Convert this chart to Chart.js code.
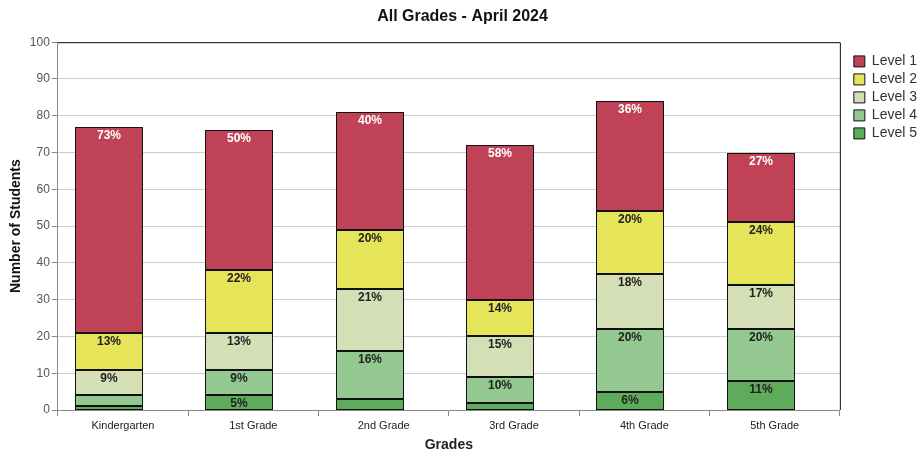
<!DOCTYPE html>
<html>
<head>
<meta charset="utf-8">
<script src="https://cdn.jsdelivr.net/npm/chart.js@4.4.1/dist/chart.umd.min.js"></script>
<style>
  html, body { margin: 0; padding: 0; background: #fff; }
  #wrap { width: 921px; height: 454px; }
</style>
</head>
<body>
<div id="wrap"><canvas id="chart" width="921" height="454"></canvas></div>
<script>
const grades = ['Kindergarten', '1st Grade', '2nd Grade', '3rd Grade', '4th Grade', '5th Grade'];
const level1 = [56, 38, 32, 42, 30, 19];
const level2 = [10, 17, 16, 10, 17, 17];
const level3 = [7, 10, 17, 11, 15, 12];
const level4 = [3, 7, 13, 7, 17, 14];
const level5 = [1, 4, 3, 2, 5, 8];

const totals = grades.map((g, i) => level1[i] + level2[i] + level3[i] + level4[i] + level5[i]);

const FONT = '"Liberation Sans", Arial, sans-serif';

// bars sit a little left of the centre of each category band; snap to pixels
const shiftBars = {
  id: 'shiftBars',
  afterDatasetsUpdate(chart) {
    const xs = chart.scales.x;
    const shift = xs.width / chart.data.labels.length * 0.107;
    chart.data.datasets.forEach((ds, di) => {
      chart.getDatasetMeta(di).data.forEach(bar => {
        bar.x = Math.round(bar.x - shift);
        bar.width = Math.round(bar.width / 2) * 2;
        bar.y = Math.round(bar.y);
        bar.base = Math.round(bar.base);
      });
    });
  }
};

// nudge the legend items away from the plot frame
const legendNudge = {
  id: 'legendNudge',
  afterInit(chart) {
    const lg = chart.legend;
    const orig = lg.draw;
    lg.draw = function () {
      const ctx = this.ctx;
      ctx.save();
      ctx.translate(10, 2);
      orig.apply(this, arguments);
      ctx.restore();
    };
  }
};

// percent labels drawn near the top of each segment
const pctLabels = {
  id: 'pctLabels',
  afterDatasetsDraw(chart) {
    const ctx = chart.ctx;
    ctx.save();
    ctx.font = 'bold 12px ' + FONT;
    ctx.textAlign = 'center';
    ctx.textBaseline = 'middle';
    chart.data.datasets.forEach((ds, di) => {
      const meta = chart.getDatasetMeta(di);
      meta.data.forEach((bar, i) => {
        const pct = Math.round(ds.data[i] / totals[i] * 100);
        if (pct < 5) return;
        ctx.fillStyle = ds.label === 'Level 1' ? '#ffffff' : '#222222';
        ctx.fillText(pct + '%', bar.x, bar.y + 9);
      });
    });
    ctx.restore();
  }
};

// black frame on top and right of plot area
const frame = {
  id: 'frame',
  afterDraw(chart) {
    const a = chart.chartArea;
    const ctx = chart.ctx;
    ctx.save();
    ctx.strokeStyle = '#111';
    ctx.lineWidth = 1;
    ctx.beginPath();
    ctx.moveTo(a.left, a.top + 0.5);
    ctx.lineTo(a.right + 0.5, a.top + 0.5);
    ctx.lineTo(a.right + 0.5, a.bottom);
    ctx.stroke();
    ctx.restore();
  }
};

const mk = (label, data, color) => ({
  label: label,
  data: data,
  backgroundColor: color,
  borderColor: '#111',
  borderWidth: 1,
  borderSkipped: false,
  inflateAmount: 0,
  barPercentage: 0.52,
  categoryPercentage: 1
});

new Chart(document.getElementById('chart'), {
  type: 'bar',
  data: {
    labels: grades,
    datasets: [
      mk('Level 5', level5, '#5FAB5C'),
      mk('Level 4', level4, '#93C890'),
      mk('Level 3', level3, '#D5DFB6'),
      mk('Level 2', level2, '#E6E55A'),
      mk('Level 1', level1, '#C04257')
    ]
  },
  plugins: [shiftBars, legendNudge, pctLabels, frame],
  options: {
    responsive: false,
    animation: false,
    layout: { padding: { top: 0, right: 4, bottom: 0, left: 8 } },
    plugins: {
      title: {
        display: true,
        text: 'All Grades - April 2024',
        color: '#111',
        font: { family: FONT, size: 16, weight: 'bold' },
        padding: { top: 7, bottom: 16 }
      },
      legend: {
        position: 'right',
        align: 'start',
        reverse: true,
        title: { display: true, text: ' ', font: { size: 12 }, padding: { top: 20, bottom: 14 } },
        labels: {
          color: '#333',
          boxWidth: 11,
          boxHeight: 11,
          padding: 4,
          font: { family: FONT, size: 14 }
        }
      },
      tooltip: { enabled: false }
    },
    scales: {
      x: {
        stacked: true,
        grid: { offset: true, drawOnChartArea: false, tickLength: 6, color: '#888' },
        border: { color: '#888' },
        ticks: { color: '#222', font: { family: FONT, size: 11 }, padding: 3 },
        title: {
          display: true,
          text: 'Grades',
          color: '#222',
          font: { family: FONT, size: 14, weight: 'bold' },
          padding: { top: 2, bottom: 0 }
        }
      },
      y: {
        stacked: true,
        min: 0,
        max: 100,
        ticks: { stepSize: 10, color: '#555', font: { family: FONT, size: 12 }, padding: 2 },
        grid: { color: '#ccc', tickLength: 6, tickColor: '#888' },
        border: { color: '#888' },
        title: {
          display: true,
          text: 'Number of Students',
          color: '#111',
          font: { family: FONT, size: 14, weight: 'bold' },
          padding: { top: 0, bottom: 3 }
        }
      }
    }
  }
});
</script>
</body>
</html>
